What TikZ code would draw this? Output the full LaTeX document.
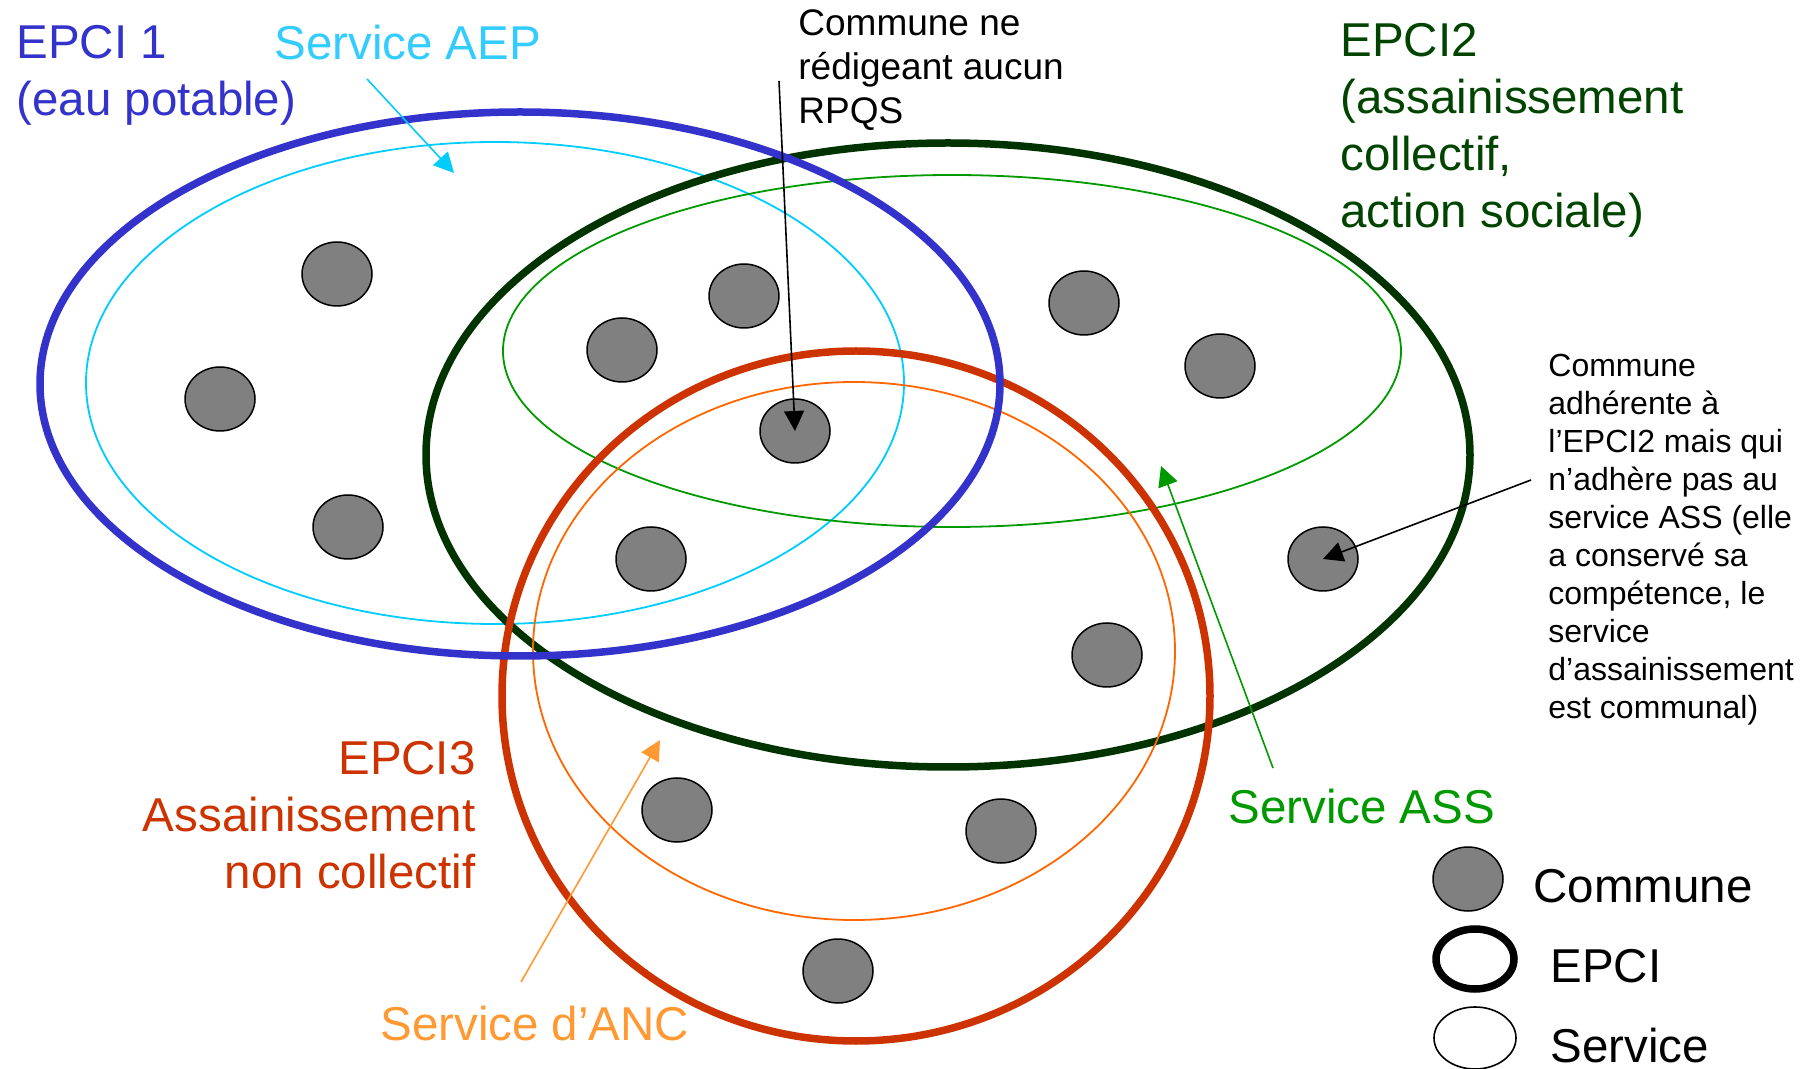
\documentclass[tikz,border=0pt]{standalone}
\usepackage{fontspec}
\setmainfont{Liberation Sans}
\usetikzlibrary{shapes.geometric,arrows.meta}
\definecolor{epciblue}{HTML}{3333CC}
\definecolor{aepcyan}{HTML}{00CCFF}
\definecolor{aeptext}{HTML}{33CCFF}
\definecolor{epcigreen}{HTML}{003300}
\definecolor{epcigreentext}{HTML}{004400}
\definecolor{assgreen}{HTML}{009900}
\definecolor{epcired}{HTML}{CC3300}
\definecolor{ancline}{HTML}{FF6600}
\definecolor{anctext}{HTML}{FF9933}
\definecolor{communegray}{HTML}{808080}
\tikzset{
  epciline/.style={line width=3.75pt},
  serviceline/.style={line width=0.9pt},
  commune/.style={ellipse, draw=black, line width=0.75pt, fill=communegray, minimum width=35pt, minimum height=32pt, inner sep=0pt},
  bigtxt/.style={font=\fontsize{23.75}{28.5}\selectfont, inner sep=0pt, align=left},
  medtxt/.style={font=\fontsize{18.5}{22}\selectfont, inner sep=0pt, align=left},
  smalltxt/.style={font=\fontsize{16}{19}\selectfont, inner sep=0pt, align=left},
  pointer/.style={line width=0.8pt, -{Triangle[length=10pt,width=10pt]}}
}
\begin{document}
\begin{tikzpicture}[x=0.5pt,y=-0.5pt]
\useasboundingbox (0,0) rectangle (1812,1069);
% ellipses
\draw[serviceline, aepcyan] (495,383) ellipse [x radius=409, y radius=241];
\draw[serviceline, assgreen] (952,351) ellipse [x radius=449, y radius=176];
\draw[epciline, epcigreen] (948,455) ellipse [x radius=522, y radius=312];
\draw[epciline, epcired] (856,696) ellipse [x radius=354, y radius=345];
\draw[serviceline, ancline] (854,651) ellipse [x radius=321, y radius=269];
\draw[epciline, epciblue] (520,384) ellipse [x radius=480, y radius=272];
% communes
\node[commune] (c1) at (337,274) {};
\node[commune] (c2) at (220,399) {};
\node[commune] (c3) at (348,527) {};
\node[commune] (c4) at (622,350) {};
\node[commune] (c5) at (744,296) {};
\node[commune] (c6) at (795,431) {};
\node[commune] (c7) at (651,559) {};
\node[commune] (c8) at (1084,303) {};
\node[commune] (c9) at (1220,366) {};
\node[commune] (c10) at (1323,559) {};
\node[commune] (c11) at (1107,655) {};
\node[commune] (c12) at (677,810) {};
\node[commune] (c13) at (1001,831) {};
\node[commune] (c14) at (838,971) {};
% labels
\node[bigtxt, text=epciblue, anchor=north west] (lepci1) at (16,25) {EPCI 1\\(eau potable)};
\node[bigtxt, text=aeptext, anchor=north west] (laep) at (274,25) {Service AEP};
\node[medtxt, anchor=north west] (lrpqs) at (798,9) {Commune ne\\rédigeant aucun\\RPQS};
\node[bigtxt, text=epcigreentext, anchor=north west] (lepci2) at (1340,23) {EPCI2\\(assainissement\\collectif,\\action sociale)};
\node[smalltxt, anchor=north west] (lnote) at (1548,354) {Commune\\adhérente à\\l’EPCI2 mais qui\\n’adhère pas au\\service ASS (elle\\a conservé sa\\compétence, le\\service\\d’assainissement\\est communal)};
\node[bigtxt, align=right, text=epcired, anchor=north east] (lepci3) at (476,741) {EPCI3\\Assainissement\\non collectif};
\node[bigtxt, text=assgreen, anchor=north west] (lass) at (1228,789) {Service ASS};
\node[bigtxt, text=anctext, anchor=north west] (lanc) at (380,1006) {Service d’ANC};
% legend
\node[commune] (legc) at (1468,879) {};
\draw[epciline, black] (1475,959) ellipse [x radius=39, y radius=30];
\draw[line width=0.8pt, black] (1475,1038) ellipse [x radius=41, y radius=31];
\node[bigtxt, anchor=north west] (lcom) at (1533,869) {Commune};
\node[bigtxt, anchor=north west] (lepci) at (1550,949) {EPCI};
\node[bigtxt, anchor=north west, text depth=0pt] (lserv) at (1550,1028) {Service};
% connectors
\coordinate (aepS) at (367,79);
\coordinate (aepE) at (454,173);
\coordinate (rpqsS) at (779,81);
\coordinate (noteS) at (1531,480);
\coordinate (assS) at (1273,768);
\coordinate (assE) at (1161,466);
\coordinate (ancS) at (521,982);
\coordinate (ancE) at (660,740);
\draw[pointer, aepcyan] (aepS) -- (aepE);
\draw[pointer, black] (rpqsS) -- (c6.center);
\draw[pointer, black] (noteS) -- (c10.center);
\draw[pointer, assgreen] (assS) -- (assE);
\draw[pointer, anctext] (ancS) -- (ancE);
\end{tikzpicture}
\end{document}
